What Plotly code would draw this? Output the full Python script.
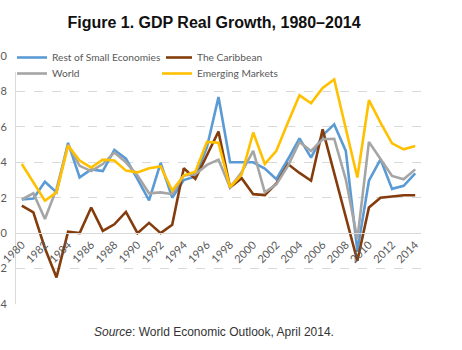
import plotly.graph_objects as go

years = list(range(1980, 2015))
tick_years = list(range(1980, 2015, 2))
tick_labels = [str(y) for y in tick_years]

rest_small = [1.9, 1.96, 2.9, 2.3, 5.1, 3.15, 3.6, 3.5, 4.7, 4.2, 3.05, 1.85,
              3.96, 2.0, 3.0, 3.2, 4.85, 7.68, 4.0, 4.0, 4.0, 3.65, 3.05, 4.17,
              5.35, 4.26, 5.52, 6.14, 4.64, -1.0, 2.96, 4.17, 2.5, 2.67, 3.38]
caribbean = [1.55, 1.17, -0.85, -2.5, 0.08, 0.0, 1.45, 0.13, 0.5, 1.2, 0.0, 0.58,
             0.0, 0.47, 3.66, 3.06, 4.4, 5.74, 2.58, 3.1, 2.2, 2.15, 2.8, 3.9,
             3.4, 2.96, 5.86, 3.4, 0.9, -1.56, 1.45, 2.0, 2.07, 2.14, 2.14]
world = [1.9, 2.25, 0.8, 2.5, 5.0, 3.8, 3.5, 3.9, 4.55, 4.0, 3.25, 2.25,
         2.3, 2.2, 3.25, 3.33, 3.85, 4.15, 2.58, 3.43, 4.65, 2.3, 2.75, 3.8,
         5.15, 4.64, 5.3, 5.33, 3.04, -0.34, 5.15, 4.17, 3.23, 3.04, 3.6]
emerging = [3.9, 2.87, 1.83, 2.3, 4.94, 4.1, 3.7, 4.15, 4.1, 3.53, 3.43, 3.66,
            3.77, 2.4, 3.25, 3.47, 5.15, 5.1, 2.6, 3.3, 5.68, 3.9, 4.65, 6.24,
            7.78, 7.33, 8.2, 8.68, 5.95, 3.14, 7.51, 6.24, 5.07, 4.73, 4.92]

# legend ids: row 1 col 1 drawn last (on top), row 2 transparent
series = [
    ("Rest of Small Economies", rest_small, "#5B9BD5", "legend2"),
    ("The Caribbean", caribbean, "#843C0C", "legend"),
    ("World", world, "#A5A5A5", "legend3"),
    ("Emerging Markets", emerging, "#FFC000", "legend4"),
]

fig = go.Figure()
for name, vals, color, lg in series:
    fig.add_trace(go.Scatter(x=years, y=vals, name=name, mode="lines", legend=lg,
                             line=dict(color=color, width=2.6)))

W, H = 462, 350
L, R, T, B = 16, 41, 56, 46
ymin, ymax = -4, 10
plot_w = W - L - R
plot_h = H - T - B

legend_font = dict(size=10.2, color="#595959")
col1 = (12 - L) / plot_w
col2 = (157 - L) / plot_w
row1 = 1 + 13 / plot_h
row2 = 1 - 3 / plot_h

def lg(x, y, bg):
    return dict(orientation="v", xanchor="left", yanchor="top", x=x, y=y,
                bgcolor=bg, font=legend_font)

fig.update_layout(
    width=W, height=H,
    margin=dict(l=L, r=R, t=T, b=B, autoexpand=False),
    paper_bgcolor="white", plot_bgcolor="white",
    font=dict(family="Lato, Open Sans, sans-serif", size=11, color="#595959"),
    title=dict(text="<b>Figure 1. GDP Real Growth, 1980\u20132014</b>",
               font=dict(family="Liberation Sans, Arial, sans-serif", size=16, color="#111111"),
               x=214 / W, xref="container", xanchor="center",
               y=1 - 22 / H, yref="container", yanchor="middle"),
    legend=lg(col2, row1, "rgba(255,255,255,1)"),
    legend2=lg(col1, row1, "rgba(255,255,255,1)"),
    legend3=lg(col1, row2, "rgba(255,255,255,0)"),
    legend4=lg(col2, row2, "rgba(255,255,255,0)"),
    showlegend=True,
)

fig.update_xaxes(
    range=[1979.5, 2014.5], automargin=False,
    tickmode="array", tickvals=tick_years, ticktext=tick_labels,
    tickangle=-45, showgrid=False, zeroline=False,
    anchor="free", position=(0 - ymin) / (ymax - ymin),
    showline=True, linecolor="#D9D9D9", linewidth=1, ticks="",
    ticklabeloverflow="allow",
    tickfont=dict(size=11, color="#595959"),
)
fig.update_yaxes(
    range=[ymin, ymax], dtick=2, tick0=0, automargin=False,
    showgrid=True, gridcolor="#D9D9D9", griddash="dash", gridwidth=1,
    zeroline=True, zerolinecolor="#D9D9D9", zerolinewidth=1,
    showline=True, linecolor="#D9D9D9", linewidth=1, ticks="",
    ticklabelstandoff=6, ticklabeloverflow="allow",
    tickfont=dict(size=11, color="#595959"),
)

fig.add_annotation(
    text="<i>Source</i>: World Economic Outlook, April 2014.",
    xref="paper", yref="paper",
    x=(214 - L) / plot_w, y=-(332 - (H - B)) / plot_h,
    xanchor="center", yanchor="middle", showarrow=False,
    font=dict(family="Liberation Sans, Arial, sans-serif", size=12, color="#333333"),
)

fig.write_html("out.html")
